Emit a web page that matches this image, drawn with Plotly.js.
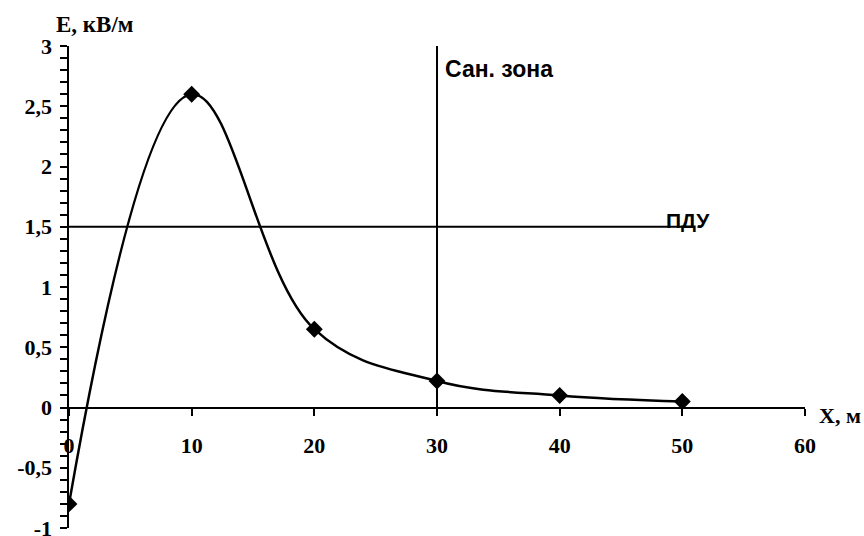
<!DOCTYPE html>
<html>
<head>
<meta charset="utf-8">
<script src="https://cdn.plot.ly/plotly-3.0.1.min.js"></script>
<style>html,body{margin:0;padding:0;background:#fff;}#chart{width:864px;height:536px;}</style>
</head>
<body>
<div id="chart"></div>
<script>
const distX = [0, 10, 20, 30, 40, 50];
const fieldE = [-0.8, 2.6, 0.65, 0.22, 0.1, 0.05];
const pduX = [0, 50];
const pduY = [1.5, 1.5];
const zoneX = [30, 30];
const zoneY = [0, 3];
const yTickVals = [-1, -0.5, 0, 0.5, 1, 1.5, 2, 2.5, 3];
const yTickText = ['-1', '-0,5', '0', '0,5', '1', '1,5', '2', '2,5', '3'];
const xTickVals = [0, 10, 20, 30, 40, 50, 60];
const xTickText = ['0', '10', '20', '30', '40', '50', '60'];

const serif = 'Liberation Serif, Times New Roman, serif';
const sans = 'Liberation Sans, Arial, sans-serif';

const traces = [
  {x: pduX, y: pduY, mode: 'lines', line: {color: '#000', width: 2}, hoverinfo: 'skip'},
  {x: zoneX, y: zoneY, mode: 'lines', line: {color: '#000', width: 2}, hoverinfo: 'skip'},
  {x: distX, y: fieldE, mode: 'lines+markers',
   line: {color: '#000', width: 2.5, shape: 'spline', smoothing: 1.1},
   marker: {symbol: 'diamond', size: 13, color: '#000'}}
];

const layout = {
  width: 864, height: 536,
  margin: {l: 69, r: 59, t: 46, b: 8},
  paper_bgcolor: '#fff', plot_bgcolor: '#fff',
  showlegend: false,
  xaxis: {
    range: [0, 60], anchor: 'free', position: 0.25,
    showgrid: false, zeroline: false,
    showline: true, linecolor: '#000', linewidth: 2.5,
    ticks: 'outside', ticklen: 7, tickwidth: 2, tickcolor: '#000',
    tickvals: xTickVals, ticktext: xTickText,
    ticklabelstandoff: 11,
    tickfont: {family: serif, size: 22, color: '#000', weight: 'bold'}
  },
  yaxis: {
    range: [-1, 3],
    showgrid: false, zeroline: false,
    showline: true, linecolor: '#000', linewidth: 2.5,
    ticks: 'outside', ticklen: 7, tickwidth: 2, tickcolor: '#000',
    tickvals: yTickVals, ticktext: yTickText,
    ticklabeloverflow: 'allow',
    ticklabelstandoff: 3,
    minor: {dtick: 0.1, ticks: 'outside', ticklen: 7, tickwidth: 2, tickcolor: '#000', showgrid: false},
    tickfont: {family: serif, size: 22, color: '#000', weight: 'bold'}
  },
  annotations: [
    {xref: 'paper', yref: 'paper', x: -0.02, y: 1.015, xanchor: 'left', yanchor: 'bottom',
     text: '<b>E, кВ/м</b>', showarrow: false, font: {family: serif, size: 23, color: '#000'}},
    {xref: 'paper', yref: 'y', x: 1.016, y: 0, xanchor: 'left', yanchor: 'middle', yshift: -8,
     text: '<b>X, м</b>', showarrow: false, font: {family: serif, size: 22, color: '#000'}},
    {xref: 'x', yref: 'y', x: 30, y: 3, xanchor: 'left', yanchor: 'top', xshift: 6, yshift: -8,
     text: '<b>Сан. зона</b>', showarrow: false, font: {family: sans, size: 23, color: '#000'}},
    {xref: 'x', yref: 'y', x: 50.5, y: 1.5, xanchor: 'center', yanchor: 'bottom', yshift: -7,
     text: '<b>ПДУ</b>', showarrow: false, font: {family: sans, size: 21, color: '#000'}}
  ]
};

Plotly.newPlot('chart', traces, layout, {displayModeBar: false, staticPlot: true});
</script>
</body>
</html>
